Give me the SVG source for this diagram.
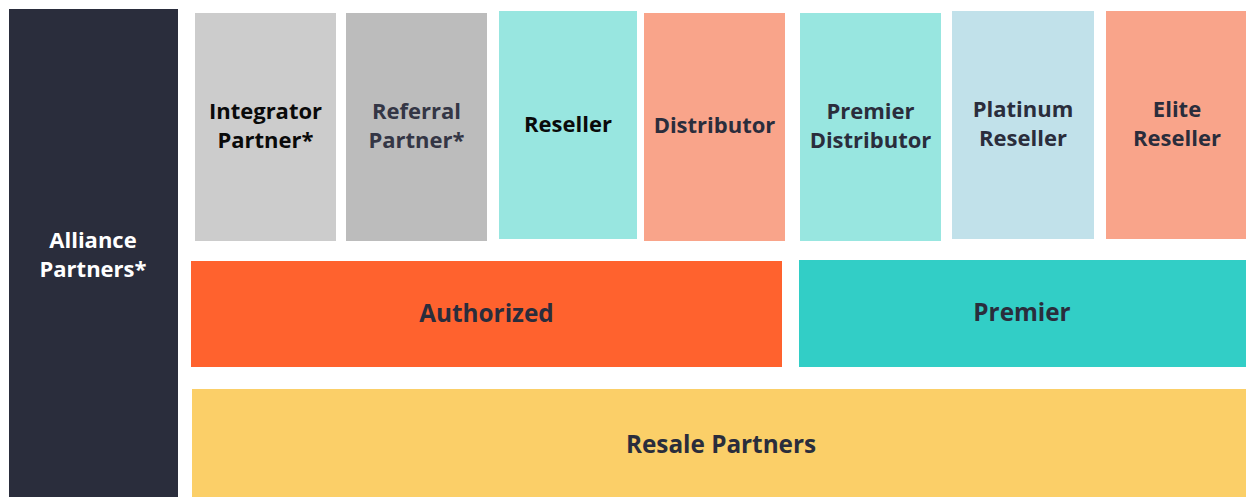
<svg xmlns="http://www.w3.org/2000/svg" width="1246" height="497" viewBox="0 0 1246 497">
<style>
text{font-family:"Open Sans","Noto Sans","Liberation Sans",sans-serif;font-weight:700;text-anchor:middle}
.s{font-size:22px}
.l{font-size:24.3px}
.dk{fill:#2A2D3C}
.bk{fill:#0A0A0A}
.wh{fill:#FFFFFF}
</style>
<rect width="1246" height="497" fill="#FFFFFF"/>
<g id="alliance"><rect x="9" y="9" width="169" height="488" fill="#2A2D3C"/><text class="s wh" x="93" y="248">Alliance</text><text class="s wh" x="93" y="277">Partners*</text></g>
<g id="integrator"><rect x="195" y="13" width="141" height="228" fill="#CCCCCC"/><text class="s bk" x="265.5" y="119">Integrator</text><text class="s bk" x="265.5" y="148">Partner*</text></g>
<g id="referral"><rect x="346" y="13" width="141" height="228" fill="#BCBCBC"/><text class="s" fill="#343645" x="416.5" y="119">Referral</text><text class="s" fill="#343645" x="416.5" y="148">Partner*</text></g>
<g id="reseller"><rect x="499" y="11" width="138" height="228" fill="#98E6E0"/><text class="s bk" x="568" y="132">Reseller</text></g>
<g id="distributor"><rect x="644" y="13" width="141" height="228" fill="#F9A48A"/><text class="s dk" x="714.5" y="133">Distributor</text></g>
<g id="premier-distributor"><rect x="800" y="13" width="141" height="228" fill="#98E6E0"/><text class="s dk" x="870.5" y="119">Premier</text><text class="s dk" x="870.5" y="148">Distributor</text></g>
<g id="platinum-reseller"><rect x="952" y="11" width="142" height="228" fill="#C1E1EA"/><text class="s dk" x="1023" y="117">Platinum</text><text class="s dk" x="1023" y="146">Reseller</text></g>
<g id="elite-reseller"><rect x="1106" y="11" width="140" height="228" fill="#F9A48A"/><text class="s dk" x="1177" y="117">Elite</text><text class="s dk" x="1177" y="146">Reseller</text></g>
<g id="authorized"><rect x="191" y="261" width="591" height="106" fill="#FF622E"/><text class="l dk" x="486.5" y="322">Authorized</text></g>
<g id="premier"><rect x="799" y="260" width="447" height="107" fill="#32CEC6"/><text class="l dk" x="1022" y="321">Premier</text></g>
<g id="resale-partners"><rect x="192" y="389" width="1054" height="108" fill="#FBCF68"/><text class="l dk" x="721" y="453">Resale Partners</text></g>
<g id="connectors"/>
</svg>
